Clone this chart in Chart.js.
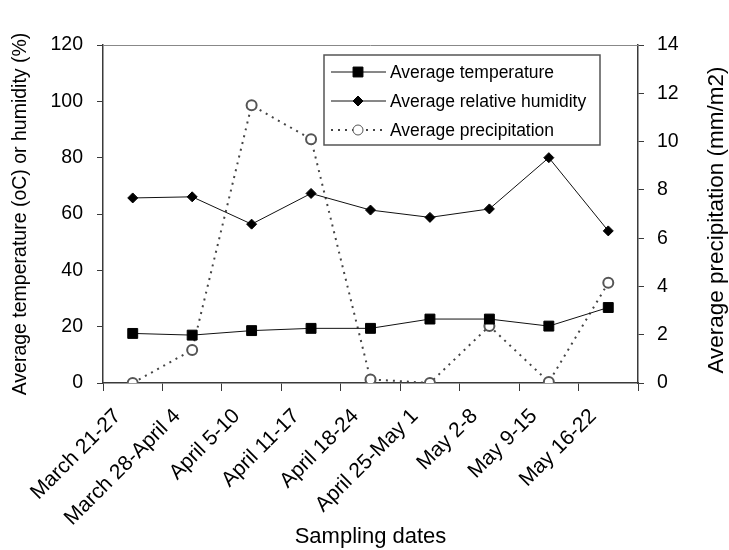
<!DOCTYPE html>
<html>
<head>
<meta charset="utf-8">
<script src="https://cdn.jsdelivr.net/npm/chart.js@4.4.0/dist/chart.umd.min.js"></script>
<style>
  html, body { margin: 0; padding: 0; background: #fff; }
  #wrap { width: 729px; height: 550px; }
</style>
</head>
<body>
<div id="wrap"><canvas id="grafica" width="729" height="550"></canvas></div>
<script>
// Fechas de muestreo
const fechas = ["March 21-27", "March 28-April 4", "April 5-10", "April 11-17", "April 18-24",
  "April 25-May 1", "May 2-8", "May 9-15", "May 16-22"];

// Series (eje izquierdo: temperatura y humedad; eje derecho: precipitación)
const temperatura = [17.6, 17.0, 18.6, 19.4, 19.4, 22.7, 22.7, 20.2, 26.8];
const humedad = [65.7, 66.1, 56.4, 67.3, 61.4, 58.8, 61.8, 80.0, 54.0];
const precipitacion = [0, 1.37, 11.5, 10.1, 0.15, 0, 2.36, 0.04, 4.15];

// Ticks de los ejes
const ticksIzq = [0, 20, 40, 60, 80, 100, 120];
const ticksDer = [0, 2, 4, 6, 8, 10, 12, 14];

const tituloDer = "Average precipitation (mm/m2)";

const fuente = "'Liberation Sans', Arial, sans-serif";
const colorEje = "#3a3a3a";

// Leyenda dentro del área del gráfico, con recuadro
const leyendaBox = {
  id: "leyendaBox",
  afterDraw(chart) {
    const ctx = chart.ctx;
    const x0 = 324, y0 = 55, w = 276, h = 90;
    ctx.save();
    ctx.strokeStyle = "#555";
    ctx.lineWidth = 1.5;
    ctx.strokeRect(x0, y0, w, h);
    ctx.font = "17.5px " + fuente;
    ctx.textBaseline = "middle";
    chart.data.datasets.forEach((ds, i) => {
      const y = y0 + 17 + i * 29;
      ctx.beginPath();
      ctx.setLineDash(ds.borderDash || []);
      ctx.strokeStyle = ds.borderColor;
      ctx.lineWidth = ds.borderWidth;
      ctx.moveTo(331, y);
      ctx.lineTo(386, y);
      ctx.stroke();
      ctx.setLineDash([]);
      ctx.fillStyle = ds.pointBackgroundColor;
      ctx.strokeStyle = ds.pointBorderColor;
      ctx.lineWidth = 1;
      Chart.helpers.drawPoint(ctx, { pointStyle: ds.pointStyle, radius: ds.pointRadius, rotation: 0, borderWidth: 1 }, 358, y);
      ctx.fillStyle = "#000";
      ctx.fillText(ds.label, 390, y + 1);
    });
    ctx.restore();
  }
};

// Línea superior del recuadro y título del eje derecho (leído de abajo hacia arriba)
const extras = {
  id: "extras",
  beforeDatasetsDraw(chart) {
    const { ctx, chartArea } = chart;
    ctx.save();
    ctx.strokeStyle = "#888";
    ctx.lineWidth = 1;
    ctx.beginPath();
    ctx.moveTo(chartArea.left, chartArea.top + 0.5);
    ctx.lineTo(chartArea.right, chartArea.top + 0.5);
    ctx.stroke();
    ctx.restore();
  },
  afterDraw(chart) {
    const { ctx, chartArea } = chart;
    ctx.save();
    ctx.translate(717, (chartArea.top + chartArea.bottom) / 2 + 6);
    ctx.rotate(-Math.PI / 2);
    ctx.font = "22.5px " + fuente;
    ctx.fillStyle = "#000";
    ctx.textAlign = "center";
    ctx.textBaseline = "middle";
    ctx.fillText(tituloDer, 0, 0);
    ctx.restore();
  }
};

const ctx = document.getElementById("grafica").getContext("2d");
new Chart(ctx, {
  type: "line",
  data: {
    labels: fechas,
    datasets: [
      {
        label: "Average temperature",
        data: temperatura,
        yAxisID: "y",
        borderColor: "#111",
        borderWidth: 1,
        pointStyle: "rect",
        pointRadius: 7,
        pointBackgroundColor: "#000",
        pointBorderColor: "#000",
        tension: 0
      },
      {
        label: "Average relative humidity",
        data: humedad,
        yAxisID: "y",
        borderColor: "#111",
        borderWidth: 1,
        pointStyle: "rectRot",
        pointRadius: 5,
        pointBackgroundColor: "#000",
        pointBorderColor: "#000",
        tension: 0
      },
      {
        label: "Average precipitation",
        data: precipitacion,
        yAxisID: "y2",
        borderColor: "#444",
        borderWidth: 2,
        borderDash: [2, 5],
        pointStyle: "circle",
        pointRadius: 5,
        pointBackgroundColor: "#fff",
        pointBorderColor: "#555",
        tension: 0
      }
    ]
  },
  options: {
    responsive: false,
    animation: false,
    layout: { padding: { top: 45, left: 0, right: 0, bottom: 0 } },
    plugins: { legend: { display: false }, tooltip: { enabled: false } },
    scales: {
      x: {
        offset: true,
        afterFit: s => { s.height = 167; },
        grid: { offset: true, drawOnChartArea: false, color: colorEje, tickLength: 8 },
        border: { color: colorEje, width: 1.5 },
        ticks: {
          color: "#000",
          font: { family: fuente, size: 21 },
          maxRotation: 45,
          minRotation: 45,
          autoSkip: false,
          padding: 13,
          labelOffset: -15
        },
        title: {
          display: true,
          text: "Sampling dates",
          color: "#000",
          font: { family: fuente, size: 22 },
          padding: { top: 0, bottom: 0 }
        }
      },
      y: {
        position: "left",
        min: 0,
        max: 120,
        afterFit: s => { s.width = 103; },
        afterBuildTicks: s => { s.ticks = ticksIzq.map(v => ({ value: v })); },
        grid: { drawOnChartArea: false, color: colorEje, tickLength: 6 },
        border: { color: colorEje, width: 1.5 },
        ticks: { color: "#000", font: { family: fuente, size: 19.5 }, padding: 14 },
        title: {
          display: true,
          text: "Average temperature (oC) or humidity (%)",
          color: "#000",
          font: { family: fuente, size: 19.5 },
          padding: { top: 9, bottom: 0 }
        }
      },
      y2: {
        position: "right",
        min: 0,
        max: 14,
        afterFit: s => { s.width = 91; },
        afterBuildTicks: s => { s.ticks = ticksDer.map(v => ({ value: v })); },
        grid: { drawOnChartArea: false, color: colorEje, tickLength: 6 },
        border: { color: colorEje, width: 1.5 },
        ticks: { color: "#000", font: { family: fuente, size: 19.5 }, padding: 13 }
      }
    }
  },
  plugins: [extras, leyendaBox]
});
</script>
</body>
</html>
